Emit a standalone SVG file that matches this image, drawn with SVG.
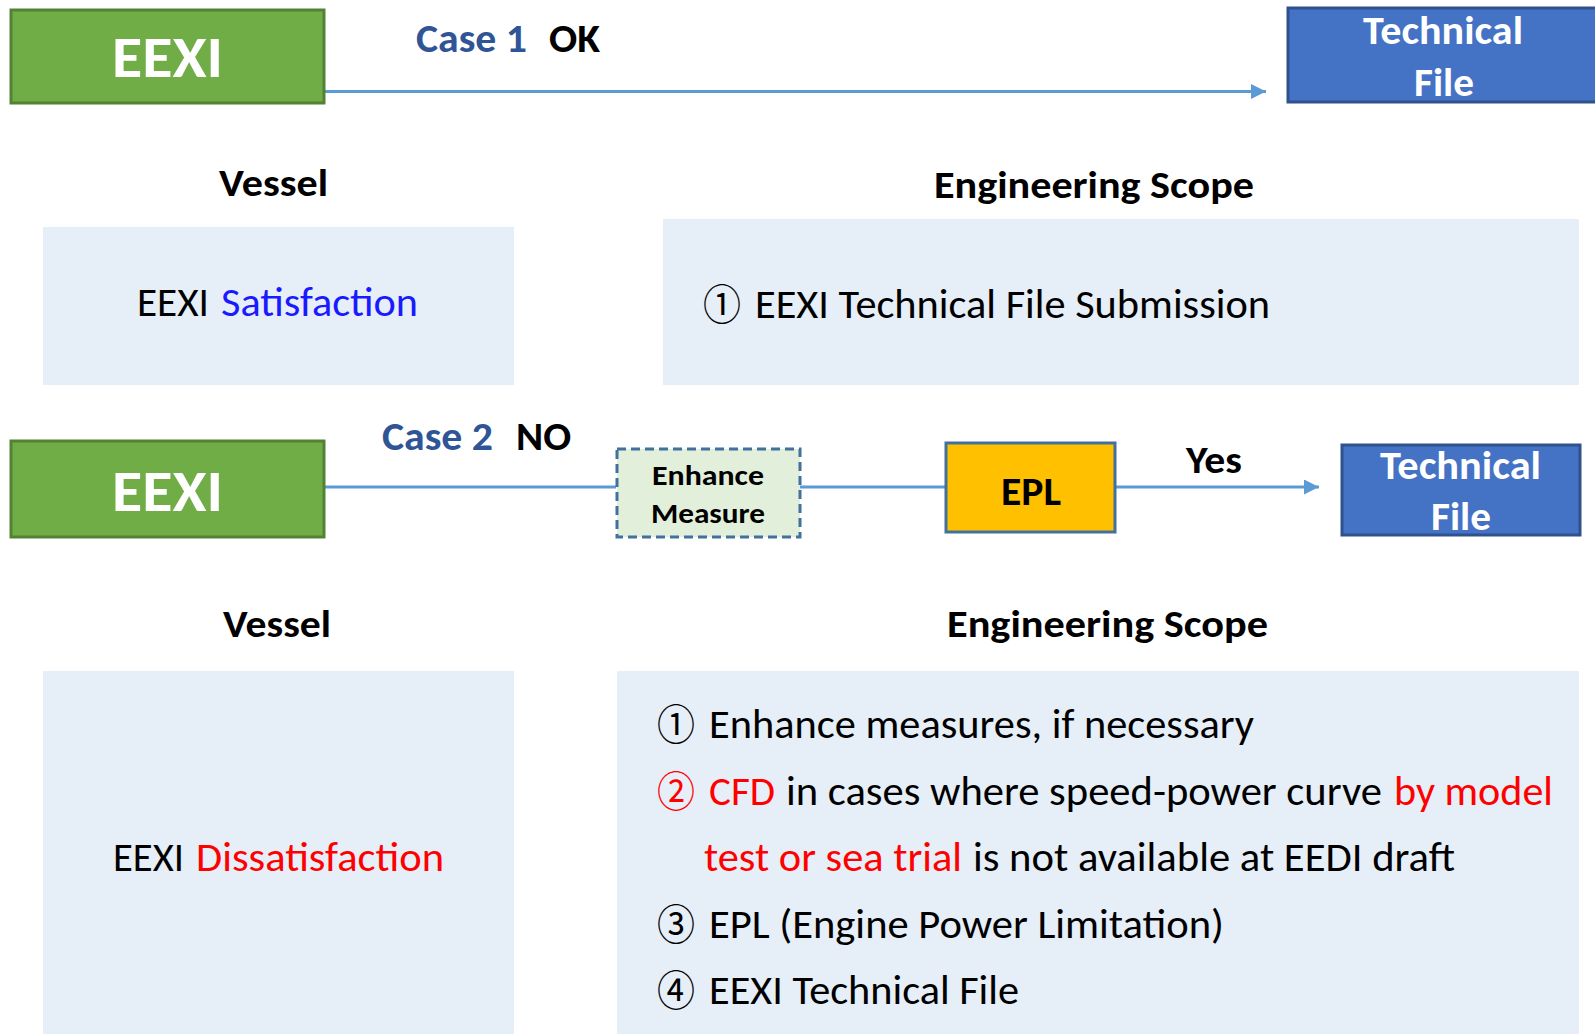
<svg xmlns="http://www.w3.org/2000/svg" width="1595" height="1034" viewBox="0 0 1595 1034">
<defs>
<style>
.t{font-family:Carlito,"Open Sans","Noto Sans",sans-serif;}
.b{font-weight:bold;}
.body{font-size:40px;fill:#000;}
.w{fill:#fff;}
.blue{fill:#2F5597;}
.red{fill:#FF0000;}
.sat{fill:#1A1AFF;}
.panel{fill:#E6EEF7;}
.green{fill:#70AD47;stroke:#548235;stroke-width:3;}
.tf{fill:#4472C4;stroke:#2F528F;stroke-width:3;}
.conn{stroke:#5B9BD5;stroke-width:3;fill:none;}
.circ{font-family:"Noto Sans CJK JP","Noto Sans CJK SC","DejaVu Sans",sans-serif;font-size:42px;}
</style>
<marker id="arr" viewBox="0 0 10 10" refX="10" refY="5" markerWidth="5" markerHeight="5" orient="auto" markerUnits="strokeWidth">
<path d="M0,0 L10,5 L0,10 z" fill="#5B9BD5"/>
</marker>
</defs>
<rect width="1595" height="1034" fill="#fff"/>

<g id="connectors">
<line class="conn" x1="324" y1="91.5" x2="1266" y2="91.5" marker-end="url(#arr)"/>
<line class="conn" x1="324" y1="487" x2="616" y2="487"/>
<line class="conn" x1="800" y1="487" x2="946" y2="487"/>
<line class="conn" x1="1115" y1="487" x2="1319" y2="487" marker-end="url(#arr)"/>
</g>

<g id="labels">
<text class="t b blue" x="416" y="52" font-size="40" textLength="111" lengthAdjust="spacingAndGlyphs">Case 1</text>
<text class="t b" x="549" y="52" font-size="40" textLength="51" lengthAdjust="spacingAndGlyphs">OK</text>
<text class="t b blue" x="382" y="450" font-size="40" textLength="111" lengthAdjust="spacingAndGlyphs">Case 2</text>
<text class="t b" x="516" y="450" font-size="40" textLength="55" lengthAdjust="spacingAndGlyphs">NO</text>
<text class="t b" x="1186" y="473" font-size="38" textLength="56" lengthAdjust="spacingAndGlyphs">Yes</text>
</g>

<g id="eexi1">
<rect class="green" x="11" y="10" width="313" height="93"/>
<text class="t b w" x="112" y="77" font-size="58" textLength="111" lengthAdjust="spacingAndGlyphs">EEXI</text>
</g>

<g id="techfile1">
<rect class="tf" x="1288" y="8" width="312" height="94"/>
<text class="t b w" x="1363" y="44" font-size="40" textLength="160" lengthAdjust="spacingAndGlyphs">Technical</text>
<text class="t b w" x="1414" y="96" font-size="40" textLength="60" lengthAdjust="spacingAndGlyphs">File</text>
</g>

<g id="vessel1-title">
<text class="t b" x="219" y="196" font-size="38" textLength="109" lengthAdjust="spacingAndGlyphs">Vessel</text>
</g>
<g id="scope1-title">
<text class="t b" x="934" y="198" font-size="38" textLength="320" lengthAdjust="spacingAndGlyphs">Engineering Scope</text>
</g>

<g id="vessel1">
<rect class="panel" x="43" y="227" width="471" height="158"/>
<text class="t body" x="137" y="316" textLength="72" lengthAdjust="spacingAndGlyphs">EEXI</text>
<text class="t body sat" x="221" y="316" textLength="197" lengthAdjust="spacingAndGlyphs">Satisfaction</text>
</g>

<g id="scope1">
<rect class="panel" x="663" y="219" width="916" height="166"/>
<text class="circ" x="703" y="320" textLength="38" lengthAdjust="spacingAndGlyphs">①</text>
<text class="t body" x="755" y="318" textLength="515" lengthAdjust="spacingAndGlyphs">EEXI Technical File Submission</text>
</g>

<g id="eexi2">
<rect class="green" x="11" y="441" width="313" height="96"/>
<text class="t b w" x="112" y="511" font-size="58" textLength="111" lengthAdjust="spacingAndGlyphs">EEXI</text>
</g>

<g id="enhance">
<rect x="617" y="449" width="183" height="88" fill="#E2EFDA" stroke="#41719C" stroke-width="3" stroke-dasharray="9,5"/>
<text class="t b" x="652" y="485" font-size="28" textLength="112" lengthAdjust="spacingAndGlyphs">Enhance</text>
<text class="t b" x="651" y="523" font-size="28" textLength="114" lengthAdjust="spacingAndGlyphs">Measure</text>
</g>

<g id="epl">
<rect x="946" y="443" width="169" height="89" fill="#FFC000" stroke="#41719C" stroke-width="3"/>
<text class="t b" x="1001" y="505" font-size="40" textLength="60" lengthAdjust="spacingAndGlyphs">EPL</text>
</g>

<g id="techfile2">
<rect class="tf" x="1342" y="445" width="238" height="90"/>
<text class="t b w" x="1380" y="479" font-size="40" textLength="161" lengthAdjust="spacingAndGlyphs">Technical</text>
<text class="t b w" x="1431" y="530" font-size="40" textLength="60" lengthAdjust="spacingAndGlyphs">File</text>
</g>

<g id="vessel2-title">
<text class="t b" x="223" y="637" font-size="38" textLength="108" lengthAdjust="spacingAndGlyphs">Vessel</text>
</g>
<g id="scope2-title">
<text class="t b" x="947" y="637" font-size="38" textLength="321" lengthAdjust="spacingAndGlyphs">Engineering Scope</text>
</g>

<g id="vessel2">
<rect class="panel" x="43" y="671" width="471" height="363"/>
<text class="t body" x="113" y="871" textLength="71" lengthAdjust="spacingAndGlyphs">EEXI</text>
<text class="t body red" x="196" y="871" textLength="248" lengthAdjust="spacingAndGlyphs">Dissatisfaction</text>
</g>

<g id="scope2">
<rect class="panel" x="617" y="671" width="962" height="363"/>
<text class="circ" x="657" y="740" textLength="38" lengthAdjust="spacingAndGlyphs">①</text>
<text class="t body" x="709" y="738" textLength="545" lengthAdjust="spacingAndGlyphs">Enhance measures, if necessary</text>
<text class="circ red" x="657" y="807" textLength="38" lengthAdjust="spacingAndGlyphs">②</text>
<text class="t body red" x="709" y="805" textLength="66" lengthAdjust="spacingAndGlyphs">CFD</text>
<text class="t body" x="786" y="805" textLength="596" lengthAdjust="spacingAndGlyphs">in cases where speed-power curve</text>
<text class="t body red" x="1394" y="805" textLength="159" lengthAdjust="spacingAndGlyphs">by model</text>
<text class="t body red" x="704" y="871" textLength="258" lengthAdjust="spacingAndGlyphs">test or sea trial</text>
<text class="t body" x="973" y="871" textLength="482" lengthAdjust="spacingAndGlyphs">is not available at EEDI draft</text>
<text class="circ" x="657" y="940" textLength="38" lengthAdjust="spacingAndGlyphs">③</text>
<text class="t body" x="709" y="938" textLength="515" lengthAdjust="spacingAndGlyphs">EPL (Engine Power Limitation)</text>
<text class="circ" x="657" y="1006" textLength="38" lengthAdjust="spacingAndGlyphs">④</text>
<text class="t body" x="709" y="1004" textLength="310" lengthAdjust="spacingAndGlyphs">EEXI Technical File</text>
</g>
</svg>
